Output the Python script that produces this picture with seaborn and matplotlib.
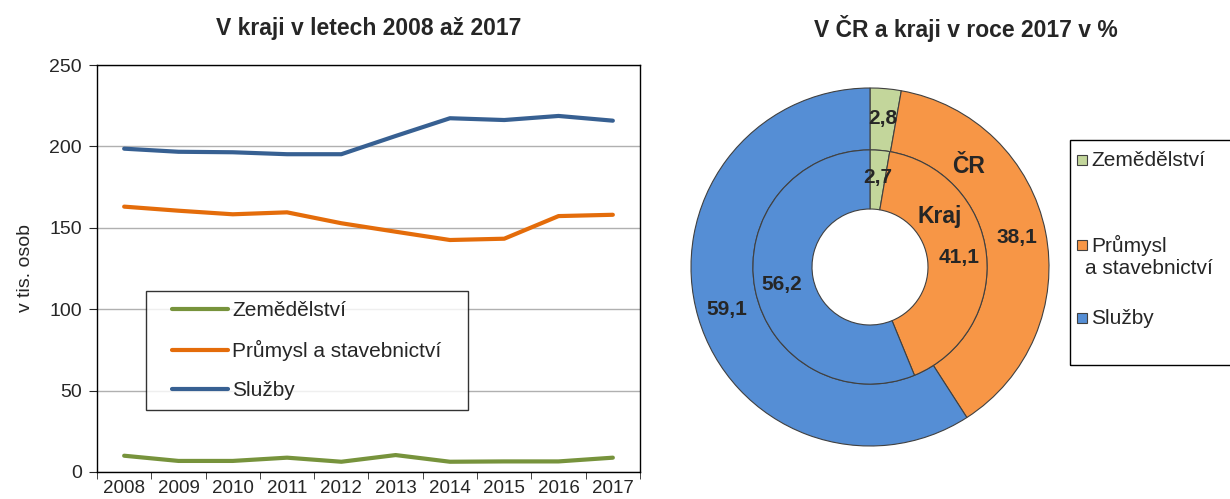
import numpy as np
import pandas as pd
import matplotlib
matplotlib.use("Agg")
import matplotlib.pyplot as plt
from matplotlib.patches import Rectangle
from matplotlib.lines import Line2D
from matplotlib.legend_handler import HandlerLine2D
import seaborn as sns

# data
roky = [2008, 2009, 2010, 2011, 2012, 2013, 2014, 2015, 2016, 2017]
zemedelstvi = [10.0, 6.8, 6.8, 8.8, 6.3, 10.4, 6.3, 6.5, 6.5, 8.8]
prumysl = [163.0, 160.5, 158.3, 159.5, 152.8, 147.6, 142.5, 143.3, 157.2, 158.0]
sluzby = [198.6, 196.7, 196.4, 195.2, 195.2, 206.4, 217.3, 216.2, 218.7, 215.8]

odvetvi = ["Zemědělství", "Průmysl a stavebnictví", "Služby"]
cr_2017 = [2.8, 38.1, 59.1]
kraj_2017 = [2.7, 41.1, 56.2]

line_colors = ["#77933c", "#e46c0a", "#376092"]
pie_colors = ["#c3d69b", "#f79646", "#558ed5"]

sns.set_style("white")
plt.rcParams['font.family'] = ['Liberation Sans', 'DejaVu Sans']

W, H = 1230, 499

def fx(px):
    return px / W

def fy(py):
    return 1 - py / H

df = pd.DataFrame({"rok": roky * 3,
                   "hodnota": zemedelstvi + prumysl + sluzby,
                   "odvetvi": np.repeat(odvetvi, len(roky))})
df["x"] = np.tile(np.arange(len(roky)), 3)

fig = plt.figure(figsize=(12.3, 4.99), dpi=100)

# ---- line chart ----
ax = fig.add_axes([fx(97), fy(472), 543 / W, 407 / H])
sns.lineplot(data=df, x="x", y="hodnota", hue="odvetvi", palette=line_colors,
             hue_order=odvetvi, linewidth=3, ax=ax, legend=False)
ax.set_xlim(-0.5, len(roky) - 0.5)
ax.set_ylim(0, 250)
ax.set_yticks([0, 50, 100, 150, 200, 250])
ax.set_xticks(np.arange(len(roky)))
ax.set_xticklabels([str(r) for r in roky], fontsize=13.5)
ax.set_xticks(np.arange(-0.5, len(roky)), minor=True)
ax.tick_params(axis="x", which="major", length=0, pad=6)
ax.tick_params(axis="x", which="minor", length=5, direction="out", bottom=True)
ax.tick_params(axis="y", length=6, direction="out", left=True, labelsize=14, pad=5)
ax.grid(axis="y", color="#b0b0b0", linewidth=1)
for s in ax.spines.values():
    s.set_color("black")
    s.set_linewidth(1)
ax.set_xlabel("")
ax.set_ylabel("v tis. osob", fontsize=14, labelpad=11)

fig.text(fx(369), fy(28), "V kraji v letech 2008 až 2017", fontsize=16.5,
         fontweight="bold", ha="center", va="center")

handles = [Line2D([], [], color=c, linewidth=3) for c in line_colors]
leg = ax.legend(handles, odvetvi, loc="upper left",
                bbox_to_anchor=(49 / 543, 181 / 407, 322 / 543, 0.0), mode="expand",
                borderaxespad=0, fontsize=15, handlelength=3.45,
                handler_map={Line2D: HandlerLine2D(xpad=0.75)},
                handletextpad=0.2, labelspacing=0.95, borderpad=0.5,
                frameon=True, fancybox=False, edgecolor="black")
leg.get_frame().set_linewidth(1)

# ---- donut chart ----
pax = fig.add_axes([fx(655.2), 17.2 / H, 429.6 / W, 429.6 / H])
wp = dict(edgecolor="#404040", linewidth=0.8)
pax.pie(cr_2017, colors=pie_colors, startangle=90, counterclock=False,
        radius=1.0, wedgeprops=dict(width=0.346, **wp))
pax.pie(kraj_2017, colors=pie_colors, startangle=90, counterclock=False,
        radius=0.654, wedgeprops=dict(width=0.33, **wp))
pax.set_xlim(-1.2, 1.2)
pax.set_ylim(-1.2, 1.2)
pax.set_aspect("equal")
pax.axis("off")

def ring_labels(vals, r):
    start = 90.0
    for v in vals:
        mid = np.deg2rad(start - v * 3.6 / 2)
        start -= v * 3.6
        pax.text(r * np.cos(mid), r * np.sin(mid), f"{v:.1f}".replace(".", ","),
                 ha="center", va="center", fontsize=15, fontweight="bold")

ring_labels(cr_2017, 0.835)
ring_labels(kraj_2017, 0.50)
pax.text(0.55, 0.56, "ČR", fontsize=16.5, fontweight="bold", ha="center", va="center")
pax.text(0.39, 0.28, "Kraj", fontsize=16.5, fontweight="bold", ha="center", va="center")

fig.text(fx(966), fy(28), "V ČR a kraji v roce 2017 v %", fontsize=16.5,
         fontweight="bold", ha="center", va="center")

# legend of the donut, laid out like the Excel one
fig.patches.append(Rectangle((fx(1070), fy(365)), 170 / W, 225 / H,
                             transform=fig.transFigure, facecolor="none",
                             edgecolor="black", linewidth=1))
rows = [(160, ["Zemědělství"]), (245, ["Průmysl", "a stavebnictví"]), (318, ["Služby"])]
for (yc, lines), c in zip(rows, pie_colors):
    fig.patches.append(Rectangle((fx(1077), fy(yc + 5)), 10 / W, 10 / H,
                                 transform=fig.transFigure, facecolor=c,
                                 edgecolor="#404040", linewidth=0.8))
    fig.text(fx(1091), fy(yc), lines[0], fontsize=15, ha="left", va="center")
    if len(lines) > 1:
        fig.text(fx(1085), fy(yc + 23), lines[1], fontsize=15, ha="left", va="center")

fig.savefig("out.png", dpi=100)
